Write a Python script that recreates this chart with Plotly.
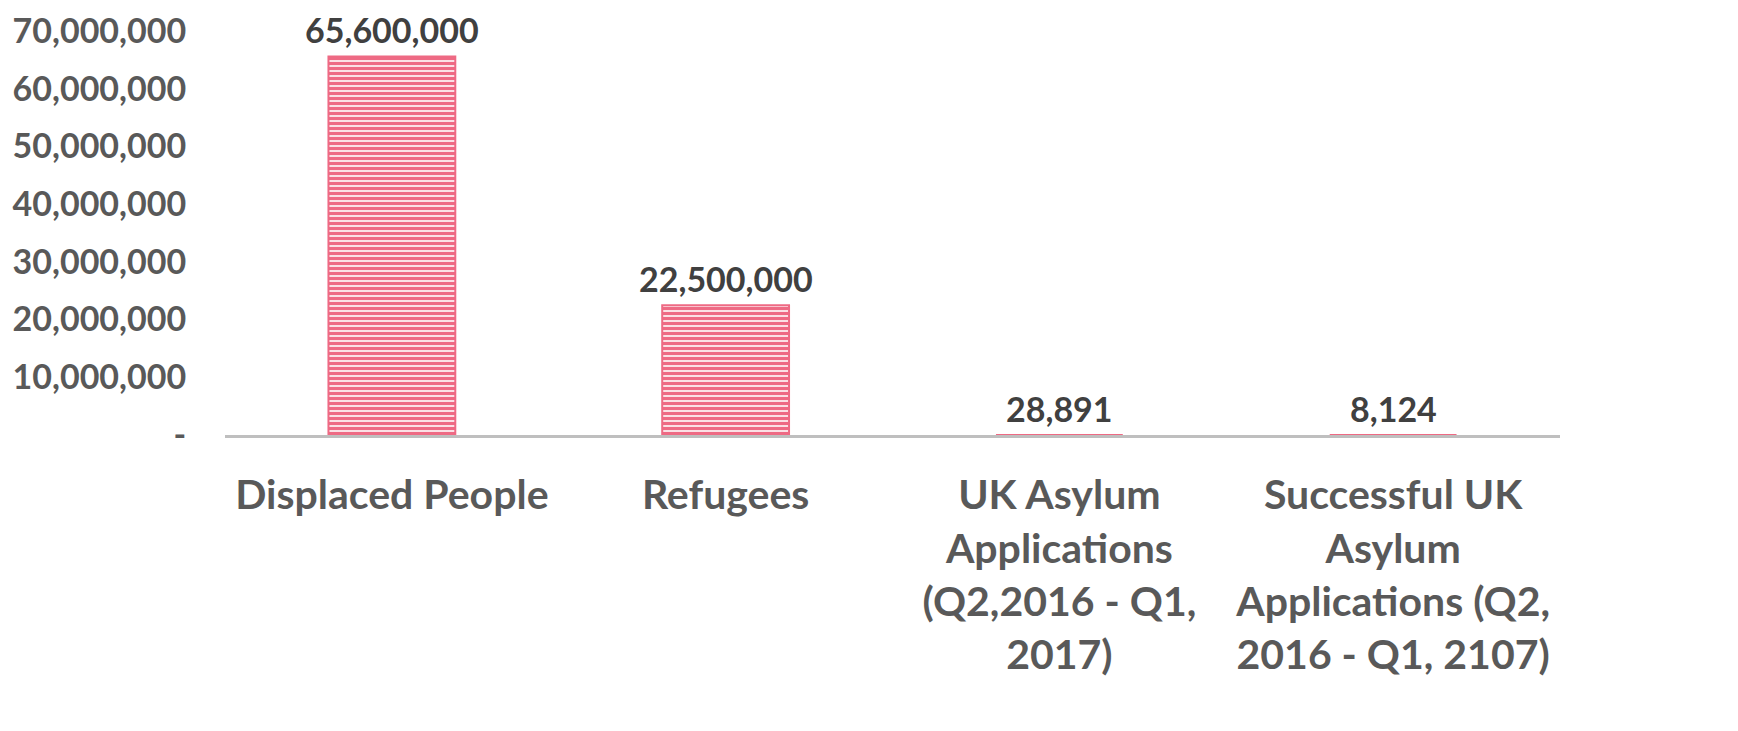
import plotly.graph_objects as go

categories = [
    "Displaced People",
    "Refugees",
    "UK Asylum<br>Applications<br>(Q2,2016 - Q1,<br>2017)",
    "Successful UK<br>Asylum<br>Applications (Q2,<br>2016 - Q1, 2107)",
]
values = [65600000, 22500000, 28891, 8124]
tick_vals = [0, 10000000, 20000000, 30000000, 40000000, 50000000, 60000000, 70000000]
tick_text = ["-", "10,000,000", "20,000,000", "30,000,000", "40,000,000",
             "50,000,000", "60,000,000", "70,000,000"]

FONT = "Lato"
fig = go.Figure(go.Bar(
    x=categories,
    y=values,
    marker=dict(
        color="#fbe0e5",
        line=dict(color="#ee6a84", width=[2, 2, 0, 0]),
        pattern=dict(shape="-", fgcolor="#ee6a84", bgcolor="#fbe0e5",
                     size=5, solidity=0.6, fillmode="replace"),
    ),
    hoverinfo="skip",
))

for c, v in zip(categories, values):
    fig.add_annotation(
        x=c, y=v, text=f"{v:,}", showarrow=False,
        yanchor="bottom", yshift=5, borderpad=0,
        font=dict(family=FONT, size=34, color="#404040", weight="bold"),
    )

fig.update_layout(
    width=1738, height=731,
    margin=dict(l=217, r=186, t=23, b=304, autoexpand=False),
    paper_bgcolor="white", plot_bgcolor="white",
    bargap=0.62,
    showlegend=False,
    font=dict(family=FONT, color="#595959"),
)
fig.update_xaxes(
    showline=True, linecolor="#bfbfbf", linewidth=3,
    showgrid=False, ticks="", automargin=False,
    ticklabelstandoff=22,
    tickfont=dict(family=FONT, size=41, color="#595959", weight="bold"),
)
fig.update_yaxes(
    range=[0, 70000000], tickvals=tick_vals, ticktext=tick_text,
    showgrid=False, zeroline=False, showline=False, automargin=False,
    ticklabeloverflow="allow",
    ticks="outside", ticklen=31, tickcolor="rgba(0,0,0,0)",
    tickfont=dict(family=FONT, size=34, color="#595959", weight="bold"),
)

fig.write_html("out.html")
